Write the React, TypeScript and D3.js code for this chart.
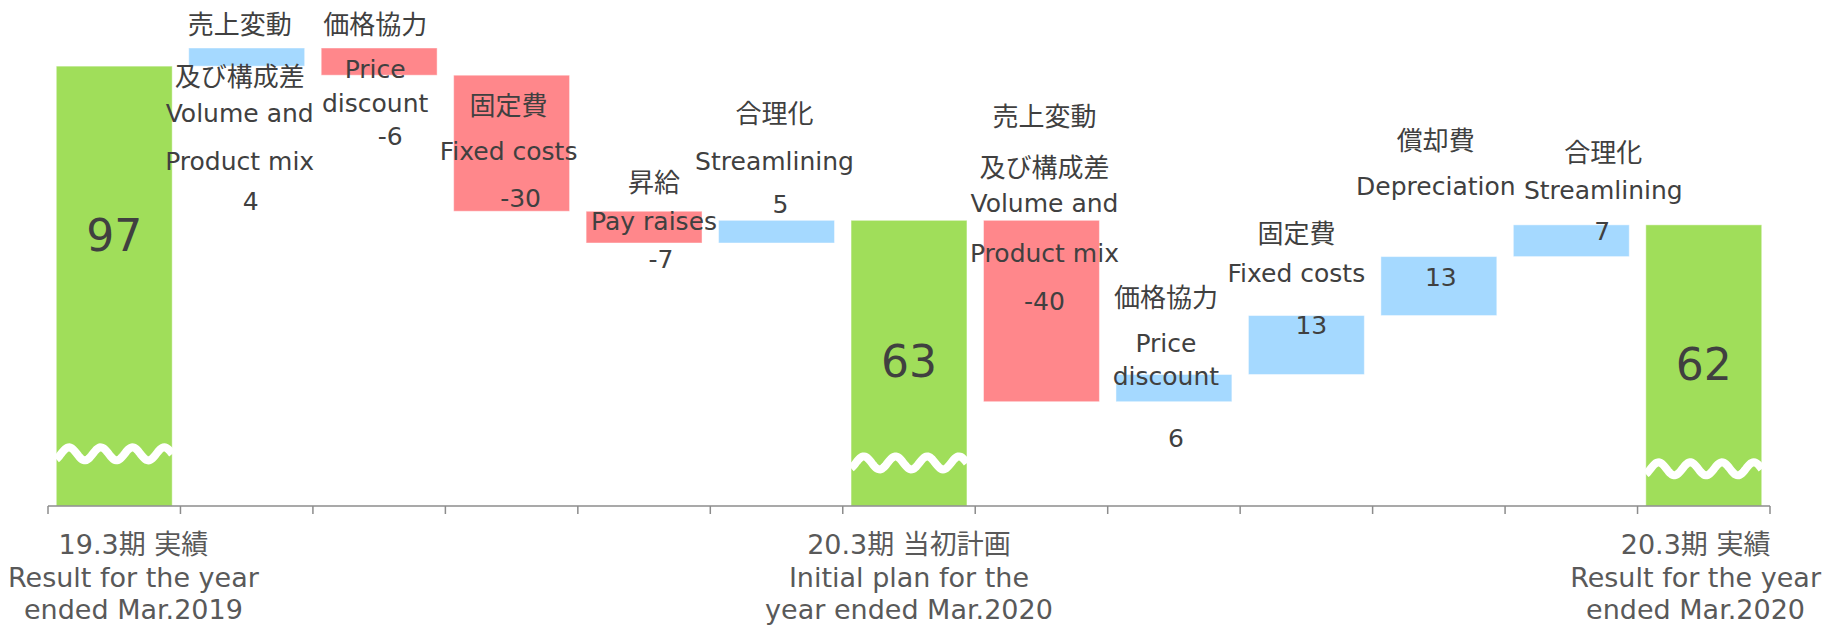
import React, { useEffect, useRef } from 'react';
import * as d3 from 'd3';

// Waterfall: operating income bridge FY19.3 result -> FY20.3 plan -> FY20.3 result
const stepValues = [97, 4, -6, -30, -7, 5, 63, -40, 6, 13, 13, 7, 62];
const isTotal = [true, false, false, false, false, false, true, false, false, false, false, false, true];
const jpLabels = [
  '19.3期 実績',
  '売上変動\n及び構成差',
  '価格協力',
  '固定費',
  '昇給',
  '合理化',
  '20.3期 当初計画',
  '売上変動\n及び構成差',
  '価格協力',
  '固定費',
  '償却費',
  '合理化',
  '20.3期 実績',
];
const enLabels = [
  'Result for the year\nended Mar.2019',
  'Volume and\nProduct mix',
  'Price\ndiscount',
  'Fixed costs',
  'Pay raises',
  'Streamlining',
  'Initial plan for the\nyear ended Mar.2020',
  'Volume and\nProduct mix',
  'Price\ndiscount',
  'Fixed costs',
  'Depreciation',
  'Streamlining',
  'Result for the year\nended Mar.2020',
];
// level (in chart units) where the "broken bar" wave is drawn on total bars
const breakLevels = [11.5, null, null, null, null, null, 9.5, null, null, null, null, null, 8.2];

// hand-placed data labels, px offsets from the bar top (as in the source slide)
const labelPlacement = [
  { dx: 0, vdx: 0, lines: [] as number[], value: 185 },
  { dx: -7, vdx: 4, lines: [-14, 38, 74, 122], value: 162 },
  { dx: -4, vdx: 11, lines: [-14, 30, 64], value: 97 },
  { dx: -3, vdx: 9, lines: [40, 85], value: 132 },
  { dx: 10, vdx: 17, lines: [-19, 19], value: 57 },
  { dx: -2, vdx: 4, lines: [-97, -50], value: -7 },
  { dx: 0, vdx: 0, lines: [], value: 157 },
  { dx: 3, vdx: 3, lines: [-94, -43, -8, 42], value: 90 },
  { dx: -8, vdx: 2, lines: [-67, -22, 11], value: 73 },
  { dx: -10, vdx: 5, lines: [-73, -34], value: 18 },
  { dx: -3, vdx: 2, lines: [-107, -62], value: 29 },
  { dx: 32, vdx: 31, lines: [-63, -26], value: 15 },
  { dx: 0, vdx: 0, lines: [], value: 155 },
];

const W = 1827;
const H = 626;
const FONT = "'DejaVu Sans', 'Noto Sans CJK JP', sans-serif";

const App: React.FC = () => {
  const svgRef = useRef<SVGSVGElement>(null);

  useEffect(() => {
    if (!svgRef.current) return;
    const svg = d3.select(svgRef.current);
    svg.selectAll('*').remove();

    // running totals
    let run = 0;
    const steps = stepValues.map((v, i) => {
      if (isTotal[i]) {
        run = v;
        return { i, v, lo: 0, hi: v, kind: 'total' };
      }
      const start = run;
      run += v;
      return { i, v, lo: Math.min(start, run), hi: Math.max(start, run), kind: v >= 0 ? 'up' : 'down' };
    });

    const x = d3
      .scaleBand<number>()
      .domain(d3.range(stepValues.length))
      .range([48, 1770])
      .paddingInner(0.125)
      .paddingOuter(0.0625);
    const y = d3.scaleLinear().domain([0, 101]).range([506, 48]);

    const color = (k: string) => (k === 'total' ? '#a0de5a' : k === 'up' ? '#a5d9ff' : '#ff878b');

    // bars
    svg
      .append('g')
      .selectAll('rect')
      .data(steps)
      .enter()
      .append('rect')
      .attr('x', (d) => x(d.i)!)
      .attr('y', (d) => y(d.hi))
      .attr('width', x.bandwidth())
      .attr('height', (d) => y(d.lo) - y(d.hi))
      .attr('fill', (d) => color(d.kind))
      .attr('stroke', '#ffffff')
      .attr('stroke-opacity', 0.45)
      .attr('stroke-width', 1);

    // wave breaks on totals
    const bw = x.bandwidth();
    const period = bw / 3.65;
    const amp = 6.5;
    steps.forEach((d) => {
      const lvl = breakLevels[d.i];
      if (lvl == null) return;
      const x0 = x(d.i)!;
      const yc = y(lvl);
      const pts: [number, number][] = d3.range(0, bw + 0.5, 1).map((t) => [
        x0 + t,
        yc - amp * Math.cos((2 * Math.PI * (t - 0.4 * period)) / period),
      ]);
      svg
        .append('path')
        .attr('d', d3.line()(pts))
        .attr('fill', 'none')
        .attr('stroke', '#ffffff')
        .attr('stroke-width', 8);
    });

    // axis
    const axisY = y(0);
    const r0 = x.range()[0];
    const axis = svg.append('g').attr('stroke', '#8c8c8c').attr('stroke-width', 1.5);
    axis.append('line').attr('x1', r0).attr('x2', x.range()[1]).attr('y1', axisY).attr('y2', axisY);
    axis
      .selectAll('line.tick')
      .data(d3.range(stepValues.length + 1))
      .enter()
      .append('line')
      .attr('class', 'tick')
      .attr('x1', (k) => r0 + k * x.step())
      .attr('x2', (k) => r0 + k * x.step())
      .attr('y1', axisY)
      .attr('y2', axisY + 8);

    // category labels under totals (clamped into the frame)
    const catBaselines = [554, 587, 619];
    steps
      .filter((d) => d.kind === 'total')
      .forEach((d) => {
        const lines = [jpLabels[d.i], ...enLabels[d.i].split('\n')];
        const g = svg.append('g');
        const texts = lines.map((ln, j) =>
          g
            .append('text')
            .attr('y', catBaselines[j])
            .attr('text-anchor', 'middle')
            .attr('font-family', FONT)
            .attr('font-size', 27)
            .attr('fill', '#595959')
            .text(ln)
        );
        const maxW = d3.max(texts, (t) => (t.node() as SVGTextElement).getComputedTextLength()) ?? 0;
        let cx = x(d.i)! + bw / 2;
        cx = Math.max(8 + maxW / 2, Math.min(W - 6 - maxW / 2, cx));
        texts.forEach((t) => t.attr('x', cx));
      });

    // data labels
    steps.forEach((d) => {
      const p = labelPlacement[d.i];
      const top = y(d.hi);
      const cx = x(d.i)! + bw / 2;
      if (d.kind === 'total') {
        svg
          .append('text')
          .attr('x', cx + p.dx)
          .attr('y', top + p.value)
          .attr('text-anchor', 'middle')
          .attr('font-family', FONT)
          .attr('font-size', 44)
          .attr('fill', '#404040')
          .text(String(d.v));
        return;
      }
      const jp = jpLabels[d.i].split('\n');
      const lines = [...jp, ...enLabels[d.i].split('\n')];
      lines.forEach((ln, j) => {
        svg
          .append('text')
          .attr('x', cx + p.dx)
          .attr('y', top + p.lines[j])
          .attr('text-anchor', 'middle')
          .attr('font-family', FONT)
          .attr('font-size', j < jp.length ? 26 : 25)
          .attr('fill', '#404040')
          .text(ln);
      });
      svg
        .append('text')
        .attr('x', cx + p.vdx)
        .attr('y', top + p.value)
        .attr('text-anchor', 'middle')
        .attr('font-family', FONT)
        .attr('font-size', 25)
        .attr('fill', '#404040')
        .text(String(d.v));
    });
  }, []);

  return (
    <>
      <style>{'body{margin:0}'}</style>
      <svg ref={svgRef} width={W} height={H} style={{ display: 'block', background: '#ffffff' }} />
    </>
  );
};

export default App;
